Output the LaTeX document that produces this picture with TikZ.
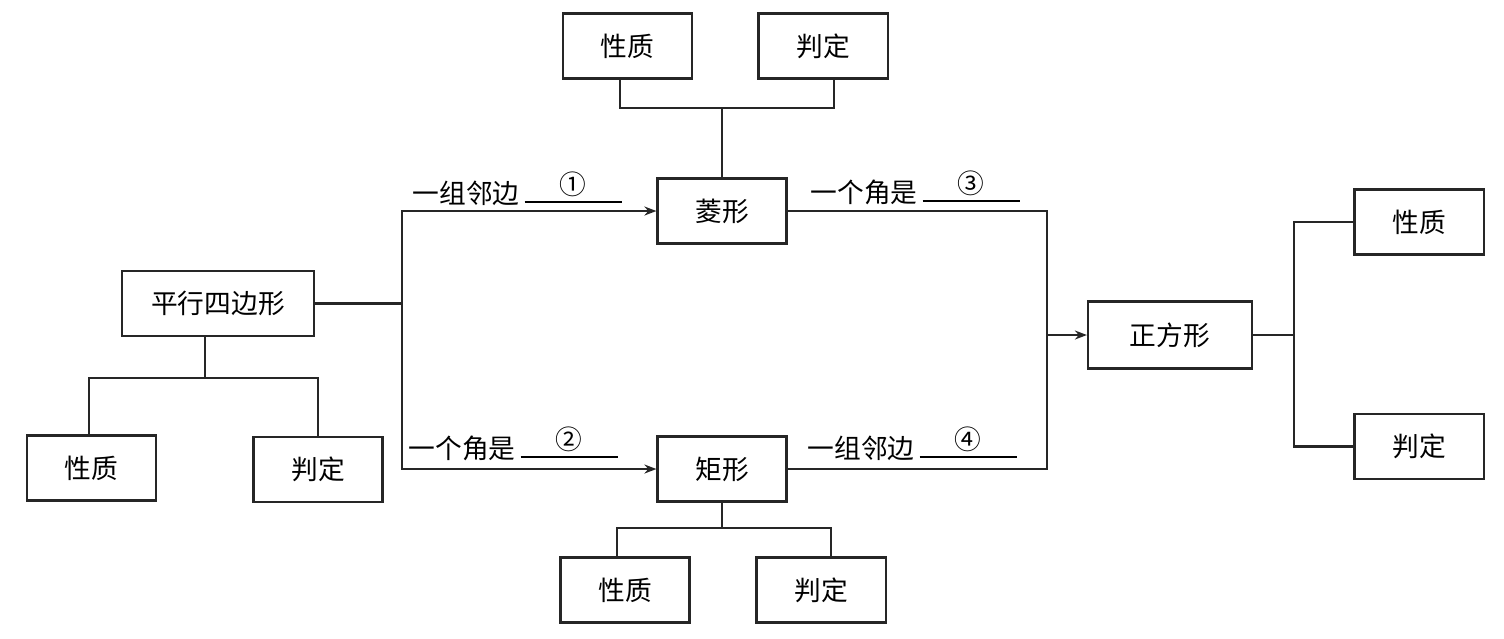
\documentclass[tikz,border=0pt]{standalone}
\usepackage{fontspec}
\newfontfamily\cjk{Noto Sans CJK SC}
\usetikzlibrary{arrows.meta}
\tikzset{
  caja/.style={draw=black!85, line width=0.6pt, minimum width=1.29cm, minimum height=0.65cm, inner sep=0pt},
  linea/.style={draw=black!85, line width=0.6pt},
  flecha/.style={linea, -{Stealth[length=1.2mm, width=0.9mm]}},
  rotulo/.style={anchor=base west, inner sep=0pt}
}
% espacio en blanco con el numero encima
\newcommand{\hueco}[1]{\kern0.05cm\makebox[0.97cm]{\raisebox{0.09cm}{#1}}\kern-0.97cm\rule[0.005cm]{0.97cm}{0.5pt}}
\begin{document}
\begin{tikzpicture}[x=0.01cm, y=-0.01cm, font=\cjk\fontsize{7.6}{9}\selectfont]
\useasboundingbox (0,0) rectangle (1504,638);

% Paralelogramo y sus ramas
\node [caja, minimum width=1.92cm] (pgram) at (218,303.5) {平行四边形};
\node [caja] (pgxz) at (91.5,468) {性质};
\node [caja] (pgpd) at (318,469.5) {判定};
\coordinate (pgj) at (205,378);
\draw [linea] (pgram.south -| pgj) -- (pgj);
\draw [linea] ([xshift=-0.025cm]pgxz.north) |- (pgj) -| (pgpd.north);

% Rombo con propiedades arriba
\node [caja] (rombo) at (722,211) {菱形};
\node [caja] (rbxz) at (627.5,46) {性质};
\node [caja] (rbpd) at (823,46) {判定};
\coordinate (rbj) at (722,108);
\draw [linea] (rombo.north) -- (rbj);
\draw [linea] ([xshift=-0.075cm]rbxz.south) |- (rbj) -| ([xshift=0.11cm]rbpd.south);

% Rectangulo con propiedades abajo
\node [caja] (rect) at (722,469) {矩形};
\node [caja] (rcxz) at (625,590) {性质};
\node [caja] (rcpd) at (821,590) {判定};
\coordinate (rcj) at (722,528);
\draw [linea] (rect.south) -- (rcj);
\draw [linea] ([xshift=-0.08cm]rcxz.north) |- (rcj) -| ([xshift=0.1cm]rcpd.north);

% Cuadrado y sus ramas
\node [caja, minimum width=1.64cm, minimum height=0.67cm] (cuad) at (1170,335) {正方形};
\node [caja] (cdxz) at (1419,222) {性质};
\node [caja] (cdpd) at (1419,446.5) {判定};
\coordinate (cdj) at (1294,335);
\draw [linea] (cuad.east) -- (cdj);
\draw [linea] (cdxz.west) -| (cdj) |- (cdpd.west);

% Flechas del paralelogramo
\coordinate (izq) at (402,303.5);
\draw [linea] (pgram.east) -- (izq);
\draw [flecha] (izq) |- (rombo.west);
\draw [flecha] (izq) |- (rect.west);

% Flechas hacia el cuadrado
\coordinate (der) at (1047,335);
\draw [linea] (rombo.east) -| (der);
\draw [linea] (rect.east) -| (der);
\draw [flecha] (der) -- (cuad.west);

% Condiciones
\node [rotulo] (et1) at (412,203) {一组邻边\hueco{①}};
\node [rotulo] (et2) at (408,458) {一个角是\hueco{②}};
\node [rotulo] (et3) at (810,202) {一个角是\hueco{③}};
\node [rotulo] (et4) at (807,458) {一组邻边\hueco{④}};
\end{tikzpicture}
\end{document}
